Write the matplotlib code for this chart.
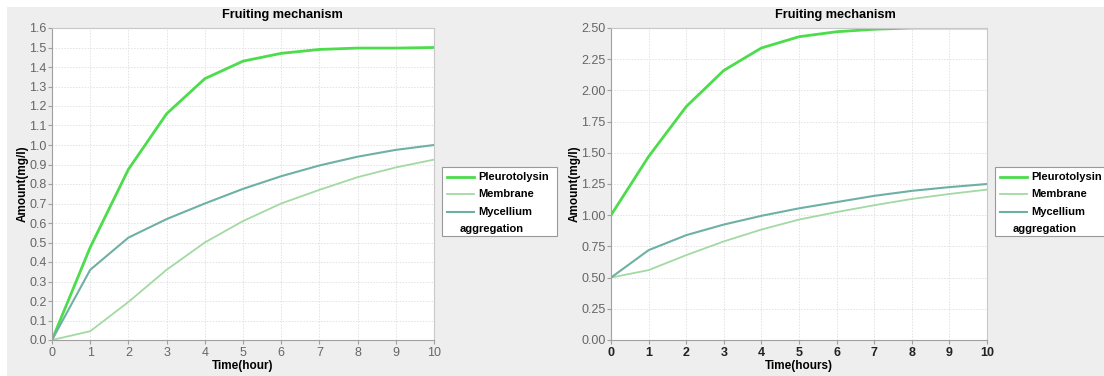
import matplotlib
matplotlib.use("Agg")
import matplotlib.pyplot as plt
from matplotlib.patches import Rectangle
from matplotlib.lines import Line2D

plt.rcParams['font.family'] = ['Liberation Sans', 'DejaVu Sans']

time = [0, 1, 2, 3, 4, 5, 6, 7, 8, 9, 10]
series_names = ["Pleurotolysin", "Membrane", "Mycellium aggregation"]

left_pleurotolysin = [0.0, 0.475, 0.875, 1.16, 1.34, 1.43, 1.47, 1.49, 1.497, 1.497, 1.50]
left_membrane = [0.0, 0.045, 0.195, 0.36, 0.50, 0.61, 0.70, 0.77, 0.835, 0.885, 0.925]
left_mycellium = [0.0, 0.36, 0.525, 0.62, 0.70, 0.775, 0.84, 0.895, 0.94, 0.975, 1.0]

right_pleurotolysin = [1.0, 1.47, 1.87, 2.16, 2.34, 2.43, 2.47, 2.49, 2.50, 2.50, 2.50]
right_membrane = [0.5, 0.56, 0.68, 0.79, 0.885, 0.965, 1.025, 1.08, 1.13, 1.17, 1.205]
right_mycellium = [0.5, 0.72, 0.84, 0.925, 0.995, 1.055, 1.105, 1.155, 1.195, 1.225, 1.25]

left_yticks = [round(0.1 * i, 1) for i in range(17)]
right_yticks = [0.25 * i for i in range(11)]
xticks = list(range(11))

colors = ["#4cdc4c", "#a3d9a3", "#6fb0a4"]
widths = [2.0, 1.3, 1.5]

W, H = 1104, 376
fig = plt.figure(figsize=(W / 100, H / 100), dpi=100, facecolor="white")
fig.patches.append(Rectangle((7 / W, 0), 1, 1 - 7 / H, transform=fig.transFigure,
                             facecolor="#eeeeee", edgecolor="none", zorder=-10))


def make_axes(px_left, px_right, ymax, yticks, yfmt, xlabel, xbold, title_x, series, legend_x):
    ax = fig.add_axes([px_left / W, (H - 340) / H, (px_right - px_left) / W, 312 / H])
    ax.set_facecolor("white")
    for vals, c, lw in zip(series, colors, widths):
        ax.plot(time, vals, color=c, lw=lw, solid_joinstyle="round")
    ax.set_xlim(0, 10)
    ax.set_ylim(0, ymax)
    ax.set_xticks(xticks)
    ax.set_yticks(yticks)
    ax.set_yticklabels([yfmt.format(v) for v in yticks])
    ax.grid(True, color="#e2e2e2", lw=0.7, ls=(0, (1.5, 1.5)))
    for s in ["top", "right"]:
        ax.spines[s].set_color("#c8c8c8")
    for s in ["left", "bottom"]:
        ax.spines[s].set_color("#a0a0a0")
    ax.tick_params(axis="y", length=3, color="#a0a0a0", labelsize=9, labelcolor="#666666", pad=1)
    if xbold:
        ax.tick_params(axis="x", length=3, color="#a0a0a0", labelsize=9, labelcolor="#222222", pad=2)
        for t in ax.get_xticklabels():
            t.set_fontweight("bold")
    else:
        ax.tick_params(axis="x", length=3, color="#a0a0a0", labelsize=9, labelcolor="#666666", pad=2)
    ax.set_xlabel(xlabel, fontsize=8.5, fontweight="bold", labelpad=1)
    ax.set_ylabel("Amount(mg/l)", fontsize=8.5, fontweight="bold", labelpad=0)
    fig.text(title_x / W, 1 - 15 / H, "Fruiting mechanism", ha="center", va="center",
             fontsize=9.2, fontweight="bold")
    # legend box
    top = 167
    fig.patches.append(Rectangle((legend_x / W, 1 - 236 / H), 115 / W, 69 / H,
                                 transform=fig.transFigure, facecolor="white",
                                 edgecolor="#999999", lw=0.8, zorder=5))
    labels = ["Pleurotolysin", "Membrane", "Mycellium"]
    for i, (lab, c, lw) in enumerate(zip(labels, colors, widths)):
        yc = 1 - (top + 10 + i * 17.4) / H
        fig.lines.append(Line2D([(legend_x + 5) / W, (legend_x + 32) / W], [yc, yc],
                                transform=fig.transFigure, color=c, lw=lw, zorder=6))
        fig.text((legend_x + 36) / W, yc, lab, ha="left", va="center", fontsize=8.0,
                 fontweight="bold", zorder=7)
    fig.text((legend_x + 18) / W, 1 - (top + 10 + 3 * 17.4) / H, "aggregation", ha="left",
             va="center", fontsize=8.0, fontweight="bold", zorder=7)
    return ax


make_axes(52, 434, 1.6, left_yticks, "{:.1f}", "Time(hour)", False, 282,
          [left_pleurotolysin, left_membrane, left_mycellium], 442)
make_axes(611, 987, 2.5, right_yticks, "{:.2f}", "Time(hours)", True, 835,
          [right_pleurotolysin, right_membrane, right_mycellium], 995)

fig.savefig("out.png", dpi=100, facecolor=fig.get_facecolor())
